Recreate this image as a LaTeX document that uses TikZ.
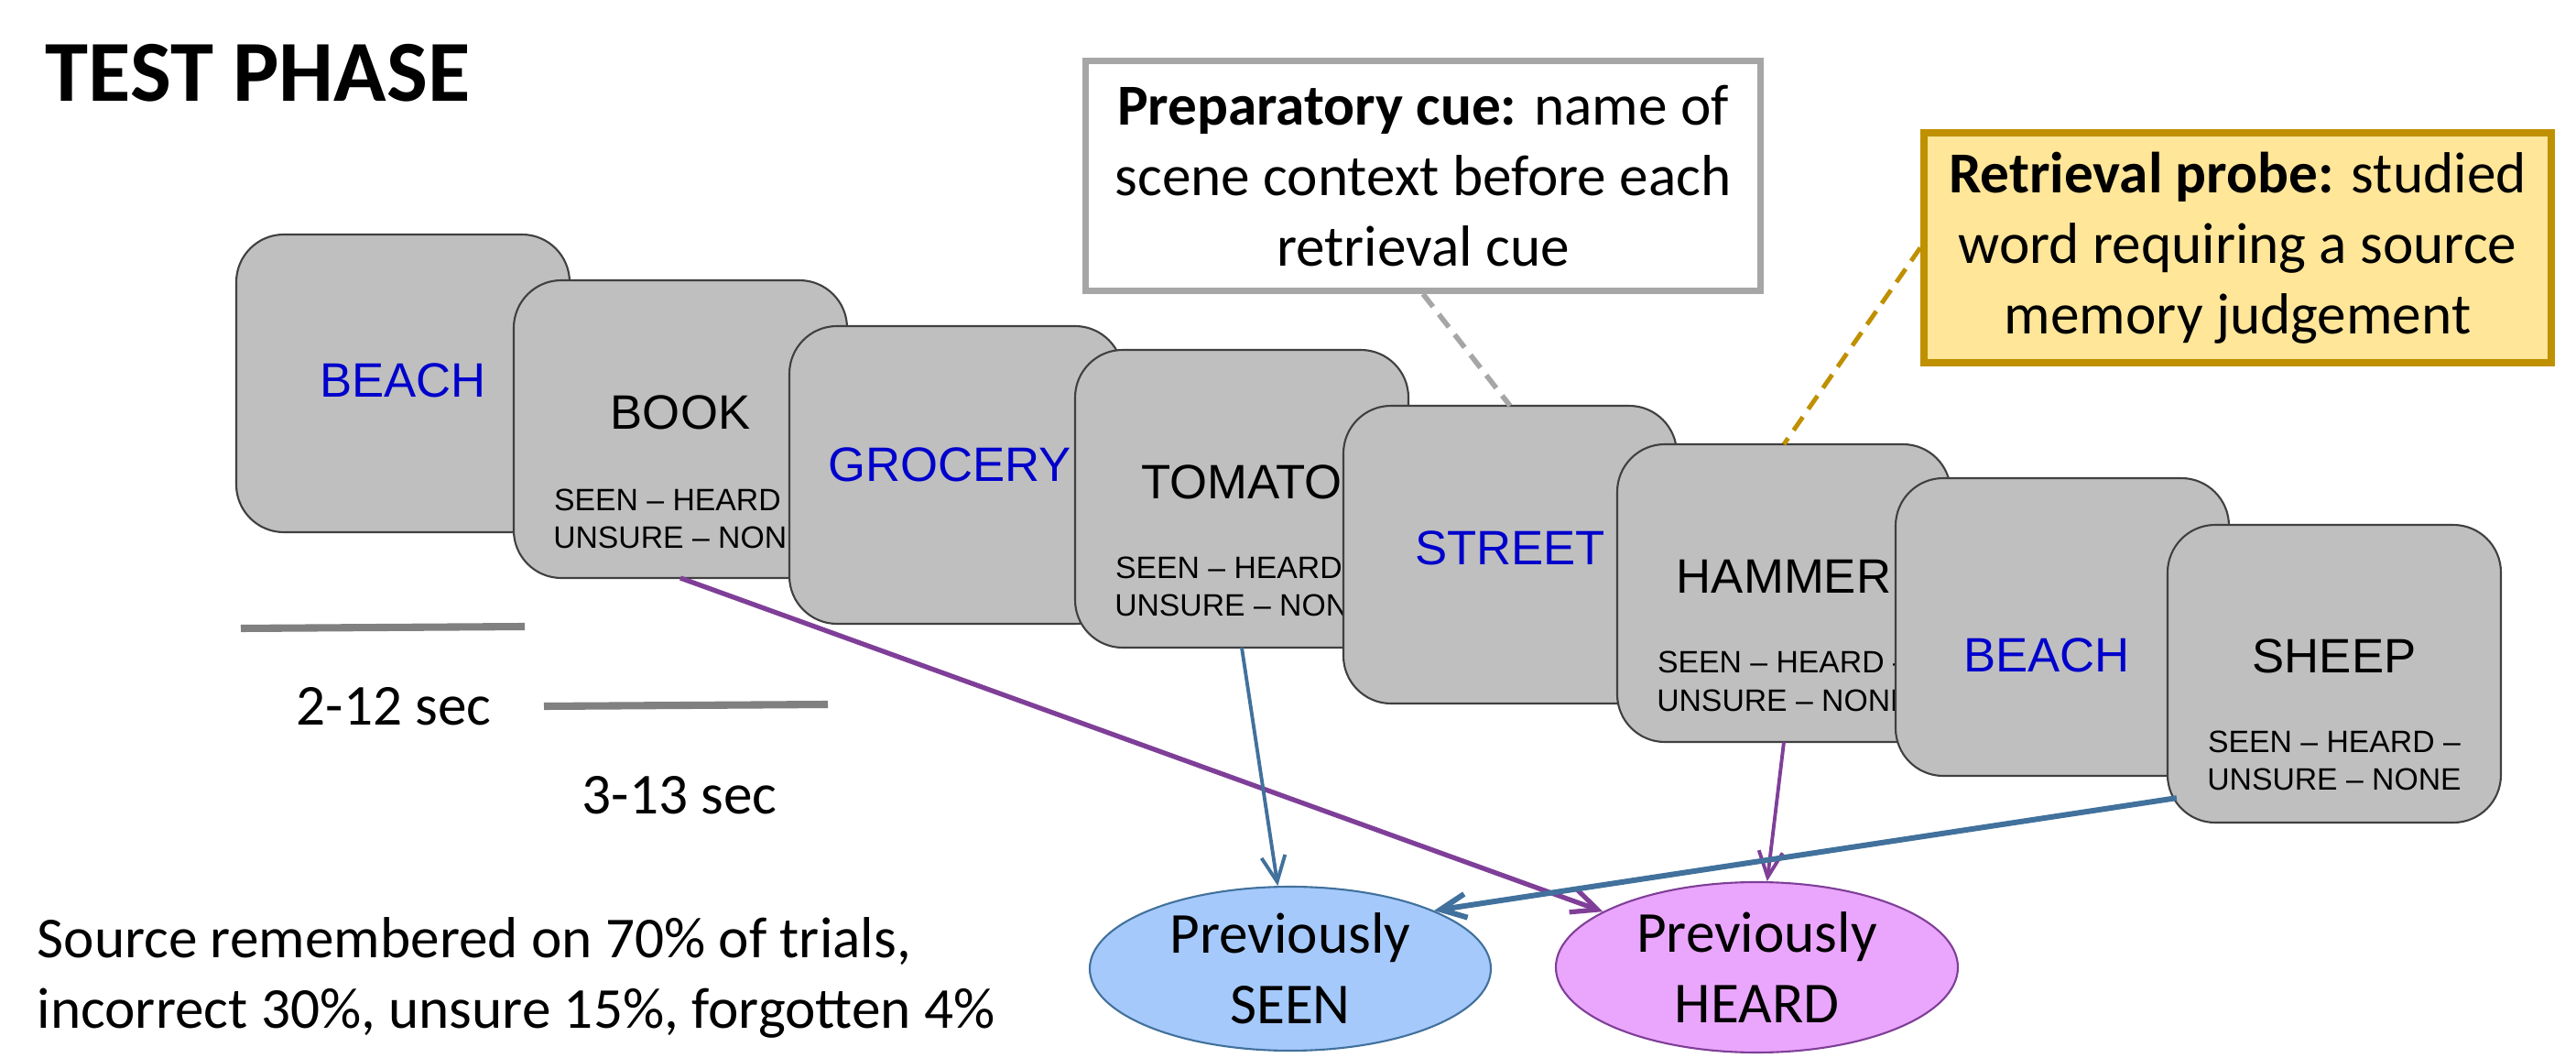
\documentclass[tikz,border=0pt]{standalone}
\usepackage{fontspec}
\setmainfont{Carlito}
\newfontfamily\cardfont{Liberation Sans}
\usepackage{tikz}
\usetikzlibrary{arrows.meta,shapes.geometric}

\definecolor{cardgray}{HTML}{BFBFBF}
\definecolor{cardedge}{HTML}{404040}
\definecolor{ctxblue}{HTML}{0000CC}
\definecolor{cuegray}{HTML}{A6A6A6}
\definecolor{probegold}{HTML}{BF9000}
\definecolor{probefill}{HTML}{FFE699}
\definecolor{seenblue}{HTML}{41719C}
\definecolor{seenfill}{HTML}{A6C9FC}
\definecolor{heardpurple}{HTML}{7F3F98}
\definecolor{heardfill}{HTML}{EAA6FC}
\definecolor{bargray}{HTML}{808080}

\begin{document}
\begin{tikzpicture}[
  >={Straight Barb[length=2.8mm,width=2.6mm]},
  card/.style={draw=cardedge, line width=0.6pt, fill=cardgray, rounded corners=0.52cm,
    minimum width=3.64cm, minimum height=3.25cm, inner sep=0pt, outer sep=0pt},
  ctx/.style={anchor=base, inner sep=0pt, text=ctxblue, font=\cardfont\fontsize{15}{18}\selectfont},
  word/.style={anchor=base, inner sep=0pt, font=\cardfont\fontsize{15}{18}\selectfont},
  resp/.style={anchor=base, inner sep=0pt, align=center, font=\cardfont\fontsize{9.6}{11.8}\selectfont},
  callout/.style={align=center, inner sep=0pt, font=\fontsize{18}{21.9}\selectfont},
  lbl/.style={anchor=base, inner sep=0pt, font=\fontsize{18}{21.9}\selectfont},
  answer/.style={ellipse, line width=0.6pt, inner sep=0pt, align=center, font=\fontsize{18}{21.9}\selectfont},
  timebar/.style={bargray, line width=2.3pt},
  arrow/.style={->}
]
  \useasboundingbox (0,0) rectangle (28.13,-11.55);

  \node[anchor=base west, inner sep=0pt, font=\bfseries\fontsize{27}{32}\selectfont] (title) at (0.49,-1.11) {TEST PHASE};

  % trial sequence
  \node[card] (c1) at (4.40,-4.185) {};
  \node[ctx] (w1) at ([yshift=-1.78cm]c1.north) {BEACH};
  \node[card] (c2) at (7.43,-4.685) {};
  \node[word] (w2) at ([yshift=-1.63cm]c2.north) {BOOK};
  \node[resp] (r2) at ([yshift=-2.93cm]c2.north) {SEEN – HEARD –\\UNSURE – NONE};
  \node[card] (c3) at (10.44,-5.185) {};
  \node[ctx] (w3) at ([xshift=-0.07cm,yshift=-1.70cm]c3.north) {GROCERY};
  \node[card] (c4) at (13.56,-5.445) {};
  \node[word] (w4) at ([yshift=-1.63cm]c4.north) {TOMATO};
  \node[resp] (r4) at ([yshift=-2.91cm]c4.north) {SEEN – HEARD –\\UNSURE – NONE};
  \node[card] (c5) at (16.49,-6.055) {};
  \node[ctx] (w5) at ([yshift=-1.74cm]c5.north) {STREET};
  \node[card] (c6) at (19.48,-6.475) {};
  \node[word] (w6) at ([yshift=-1.63cm]c6.north) {HAMMER};
  \node[resp] (r6) at ([yshift=-2.91cm]c6.north) {SEEN – HEARD –\\UNSURE – NONE};
  \node[card] (c7) at (22.52,-6.845) {};
  \node[ctx] (w7) at ([xshift=-0.17cm,yshift=-2.12cm]c7.north) {BEACH};
  \node[card] (c8) at (25.49,-7.355) {};
  \node[word] (w8) at ([yshift=-1.62cm]c8.north) {SHEEP};
  \node[resp] (r8) at ([yshift=-2.90cm]c8.north) {SEEN – HEARD –\\UNSURE – NONE};

  % timing
  \draw[timebar] (2.63,-6.86) -- (5.73,-6.84);
  \draw[timebar] (5.94,-7.71) -- (9.04,-7.69);
  \node[lbl] (t1) at (4.30,-7.92) {2-12 sec};
  \node[lbl] (t2) at (7.42,-8.89) {3-13 sec};

  % callouts
  \node[callout, draw=cuegray, line width=2pt, fill=white, minimum width=7.37cm, minimum height=2.51cm] (prep) at (15.54,-1.92)
    {\textbf{Preparatory cue:} name of\\scene context before each\\retrieval cue};
  \node[callout, draw=probegold, line width=2.3pt, fill=probefill, minimum width=6.85cm, minimum height=2.51cm] (probe) at (24.435,-2.705)
    {\textbf{Retrieval probe:} studied\\word requiring a source\\memory judgement};
  \draw[cuegray, line width=1.6pt, dash pattern=on 5pt off 3pt] (prep.south) -- (c5.north);
  \draw[probegold, line width=1.4pt, dash pattern=on 5pt off 3pt] (probe.west) -- (c6.north);

  % source judgements
  \node[answer, draw=seenblue, fill=seenfill, minimum width=4.38cm, minimum height=1.79cm] (seen) at (14.09,-10.575) {Previously\\SEEN};
  \node[answer, draw=heardpurple, fill=heardfill, minimum width=4.39cm, minimum height=1.86cm] (heard) at (19.185,-10.56) {Previously\\HEARD};

  \draw[arrow, heardpurple, line width=1.5pt] (c2.south) -- (heard);
  \draw[arrow, seenblue, line width=1.1pt] (c4.south) -- (seen);
  \draw[arrow, heardpurple, line width=1.1pt] (c6.south) -- (heard);
  \draw[arrow, seenblue, line width=1.7pt, shorten <=-1mm] (c8.217) -- (seen.22);

  \node[anchor=base west, inner sep=0pt, align=left, font=\fontsize{18}{21.9}\selectfont] (summary) at (0.40,-11.22)
    {Source remembered on 70\% of trials,\\incorrect 30\%, unsure 15\%, forgotten 4\%};
\end{tikzpicture}
\end{document}
